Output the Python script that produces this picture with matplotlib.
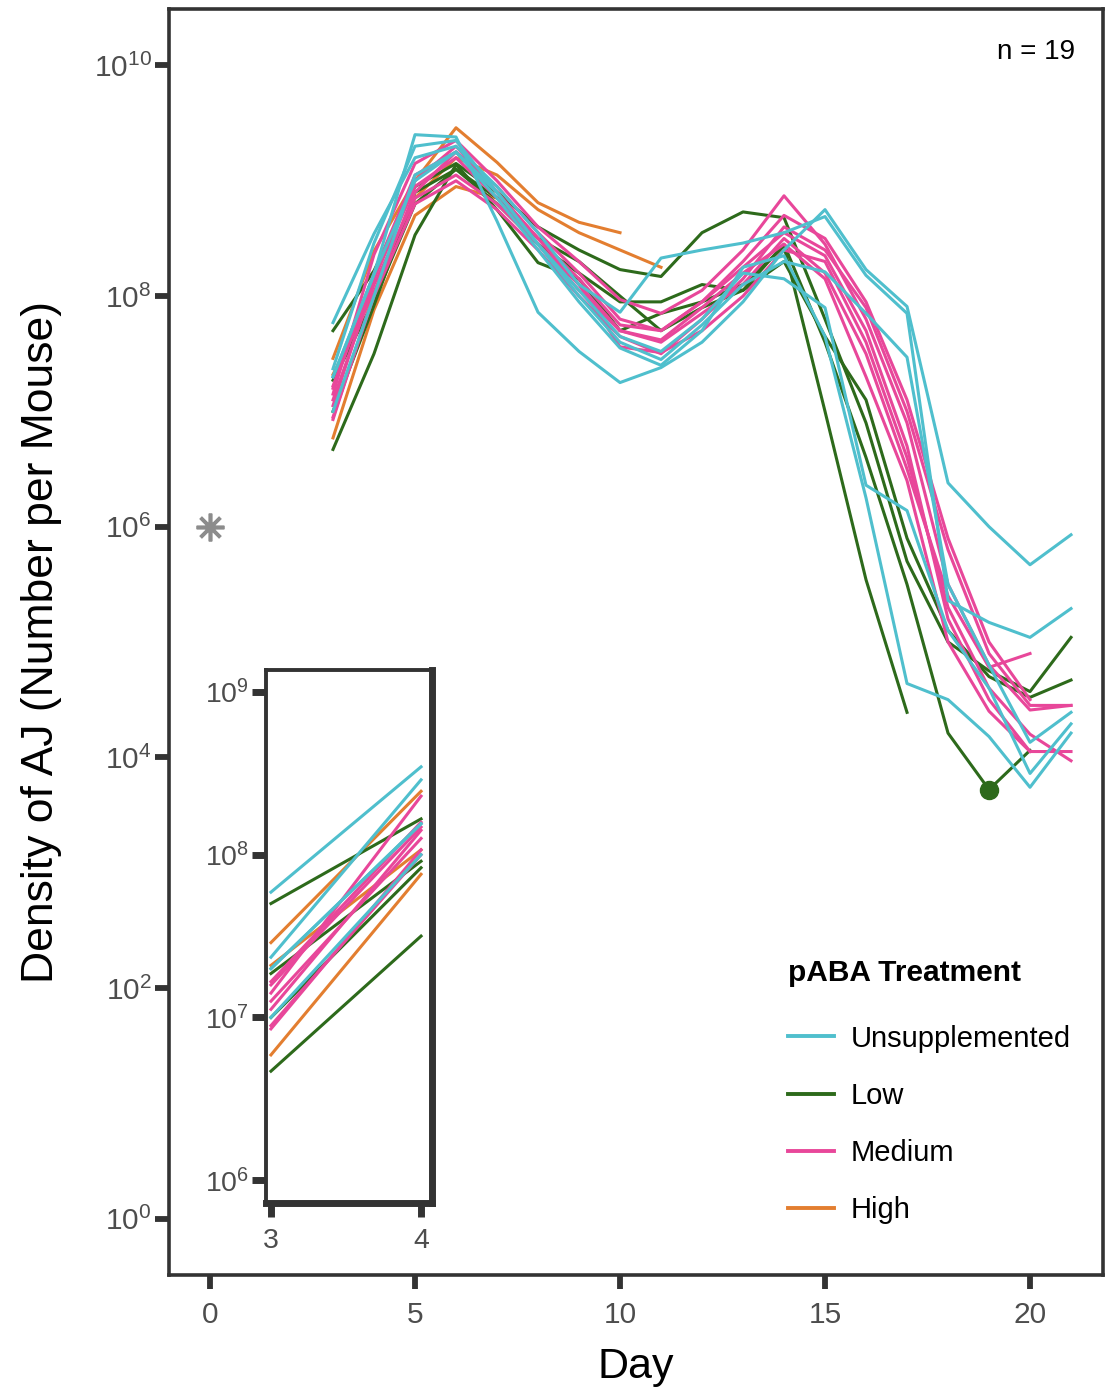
import numpy as np
import matplotlib
matplotlib.use("Agg")
import matplotlib.pyplot as plt
from matplotlib.lines import Line2D

plt.rcParams['font.family'] = ['Liberation Sans', 'DejaVu Sans']
plt.rcParams['mathtext.fontset'] = 'custom'
plt.rcParams['mathtext.rm'] = 'Liberation Sans'
plt.rcParams['mathtext.it'] = 'Liberation Sans:italic'
plt.rcParams['mathtext.bf'] = 'Liberation Sans:bold'

nan = np.nan
days = list(range(3, 22))

# log10 density per mouse, days 3..21
high = [
    [7.46, 8.39, 9.00, 9.46, 9.16, 8.81, 8.64, 8.55, nan, nan, nan, nan, nan, nan, nan, nan, nan, nan, nan],
    [7.32, 8.03, 8.85, 9.20, 9.05, 8.75, 8.55, 8.40, 8.25, nan, nan, nan, nan, nan, nan, nan, nan, nan, nan],
    [6.77, 7.88, 8.70, 8.95, 8.85, nan, nan, nan, nan, nan, nan, nan, nan, nan, nan, nan, nan, nan, nan],
]
low = [
    [7.27, 7.96, 8.80, 9.10, 8.80, 8.45, 8.20, 7.95, 7.95, 8.10, 8.05, 8.45, 7.60, 6.60, 5.50, 4.21, 3.72, 4.06, nan],
    [6.67, 7.50, 8.53, 9.14, 8.75, 8.29, 8.15, 7.70, 7.85, 7.95, 8.10, 8.43, 7.00, 5.54, 4.39, nan, nan, nan, nan],
    [7.70, 8.22, 8.95, 9.15, 8.90, 8.60, 8.40, 8.23, 8.17, 8.55, 8.73, 8.68, 7.80, 6.90, 5.70, 5.00, 4.75, 4.57, 5.04],
    [7.00, 7.92, 8.90, 9.10, 8.85, 8.50, 8.30, 8.00, 7.70, 7.90, 8.05, 8.30, 7.65, 7.10, 5.90, 5.10, 4.70, 4.52, 4.67],
]
medium = [
    [7.15, 8.36, 9.15, 9.35, 9.00, 8.60, 8.30, 7.97, 7.85, 8.05, 8.40, 8.87, 8.45, 7.80, 6.90, 5.50, 4.80, 4.41, 4.45],
    [6.93, 8.03, 8.90, 9.25, 8.95, 8.55, 8.20, 7.80, 7.70, 7.95, 8.25, 8.55, 8.35, 7.70, 6.70, 5.20, 4.50, 4.05, 4.05],
    [7.20, 8.17, 9.00, 9.30, 8.90, 8.50, 8.10, 7.56, 7.51, 7.70, 8.00, 8.40, 8.30, 7.60, 6.60, 5.30, 4.60, 4.20, 3.97],
    [7.10, 8.10, 8.85, 9.05, 8.80, 8.45, 8.05, 7.70, 7.60, 7.85, 8.10, 8.50, 8.20, 7.50, 6.50, 5.40, 4.78, 4.90, nan],
    [6.95, 8.00, 8.80, 9.00, 8.75, 8.40, 8.00, 7.65, 7.50, 7.80, 8.15, 8.60, 8.40, 7.90, 7.00, 5.80, 4.90, 4.45, 4.45],
    [7.05, 8.15, 8.95, 9.20, 8.85, 8.45, 8.10, 7.70, 7.62, 7.90, 8.20, 8.45, 8.15, 7.30, 6.40, 5.00, 4.40, 4.05, nan],
    [7.22, 8.20, 9.05, 9.25, 8.90, 8.50, 8.15, 7.75, 7.70, 7.95, 8.30, 8.70, 8.50, 7.95, 7.10, 5.90, 5.00, 4.50, nan],
]
unsupp = [
    [7.30, 8.19, 9.40, 9.38, 8.65, 7.86, 7.52, 7.25, 7.38, 7.60, 7.95, 8.40, 8.75, 8.23, 7.91, 6.38, 6.00, 5.67, 5.93],
    [7.77, 8.54, 9.20, 9.30, 8.95, 8.55, 8.10, 7.86, 8.33, 8.40, 8.46, 8.55, 8.69, 8.18, 7.85, 5.36, 5.17, 5.04, 5.29],
    [7.37, 8.46, 9.30, 9.35, 8.90, 8.45, 8.00, 7.60, 7.45, 7.75, 8.10, 8.30, 8.21, 7.85, 7.47, 5.50, 4.80, 4.13, 4.39],
    [7.00, 8.00, 9.05, 9.25, 8.85, 8.40, 7.95, 7.55, 7.40, 7.70, 8.25, 8.35, 7.65, 6.25, 4.64, 4.50, 4.18, 3.74, 4.21],
    [7.30, 8.19, 9.00, 9.25, 8.90, 8.45, 8.05, 7.65, 7.52, 7.80, 8.20, 8.15, 7.90, 6.36, 6.14, 5.10, 4.60, 3.86, 4.29],
]

groups = ["Unsupplemented", "Low", "Medium", "High"]
colors = {"Unsupplemented": "#4FBFCD", "Low": "#2D6A1B", "Medium": "#E8479A", "High": "#E37E30"}
series = {"Unsupplemented": unsupp, "Low": low, "Medium": medium, "High": high}
draw_order = ["High", "Low", "Medium", "Unsupplemented"]

dot_day, dot_log = 19, 3.72          # marked point on a Low mouse
inoculum_day, inoculum_log = 0, 6.0  # asterisk
n_label = "n = 19"

yticks_main = [0, 2, 4, 6, 8, 10]
xticks_main = [0, 5, 10, 15, 20]
yticks_inset = [6, 7, 8, 9]
xticks_inset = [3, 4]

W, H = 1105, 1390
fig = plt.figure(figsize=(W / 100, H / 100), dpi=100)
ax = fig.add_axes([169 / W, 1 - 1275 / H, (1103 - 169) / W, (1275 - 9) / H])

lw = 2.2
for g in draw_order:
    for m in series[g]:
        y = 10.0 ** np.array(m)
        ax.plot(days, y, color=colors[g], lw=lw)

ax.plot([dot_day], [10 ** dot_log], 'o', color=colors["Low"], ms=13, zorder=5)
ax.plot([inoculum_day], [10 ** inoculum_log], marker=(8, 2, 0), color='#8C8C8C',
        ms=20, mew=2.6, ls='none')

tick_col = '#333333'
lab_col = '#4D4D4D'
ax.set_yscale('log')
ax.set_xlim(-1, 21.78)
ax.set_ylim(10 ** -0.49, 10 ** 10.49)
ax.set_yticks([10.0 ** k for k in yticks_main])
ax.set_yticklabels([r'$\mathregular{10^{%d}}$' % k for k in yticks_main])
ax.set_xticks(xticks_main)
ax.set_xticklabels([str(v) for v in xticks_main])
ax.minorticks_off()
ax.tick_params(axis='both', which='major', direction='out', length=10, width=4.2,
               color=tick_col, labelsize=21.5, labelcolor=lab_col)
ax.tick_params(axis='y', pad=2.5)
ax.tick_params(axis='x', pad=9)
for s in ax.spines.values():
    s.set_linewidth(2.6)
    s.set_color(tick_col)

ax.set_xlabel("Day", fontsize=31, labelpad=13)
ax.set_ylabel("Density of AJ (Number per Mouse)", fontsize=32, labelpad=23)

ax.text(0.97, 0.966, n_label, transform=ax.transAxes, ha='right', va='center', fontsize=20)

handles = [Line2D([], [], color=colors[g], lw=2.8) for g in groups]
leg = ax.legend(handles, groups, title="pABA Treatment", loc='lower right',
                bbox_to_anchor=(0.987, 0.024), frameon=False, fontsize=21,
                title_fontsize=21.5, handlelength=1.6, handletextpad=0.55,
                labelspacing=1.0, borderaxespad=0.3)
leg.get_title().set_fontweight('bold')
leg._legend_box.align = "left"
leg._legend_box.sep = 27

# inset
ix0, ix1, iy0, iy1 = 266, 432, 670, 1203
axi = fig.add_axes([ix0 / W, 1 - iy1 / H, (ix1 - ix0) / W, (iy1 - iy0) / H])
for g in draw_order:
    for m in series[g]:
        axi.plot(days[:2], 10.0 ** np.array(m[:2]), color=colors[g], lw=lw)
axi.set_yscale('log')
axi.set_xlim(2.967, 4.073)
axi.set_ylim(10 ** 5.86, 10 ** 9.135)
axi.set_yticks([10.0 ** k for k in yticks_inset])
axi.set_yticklabels([r'$\mathregular{10^{%d}}$' % k for k in yticks_inset])
axi.set_xticks(xticks_inset)
axi.set_xticklabels([str(v) for v in xticks_inset])
axi.minorticks_off()
axi.tick_params(axis='both', which='major', direction='out', length=10, width=5,
                color=tick_col, labelsize=20.5, labelcolor=lab_col)
axi.tick_params(axis='y', pad=2)
axi.tick_params(axis='x', pad=8)
for side, s in axi.spines.items():
    s.set_color(tick_col)
    s.set_linewidth(5 if side in ('right', 'bottom') else 2.8)

fig.savefig("out.png", dpi=100)
